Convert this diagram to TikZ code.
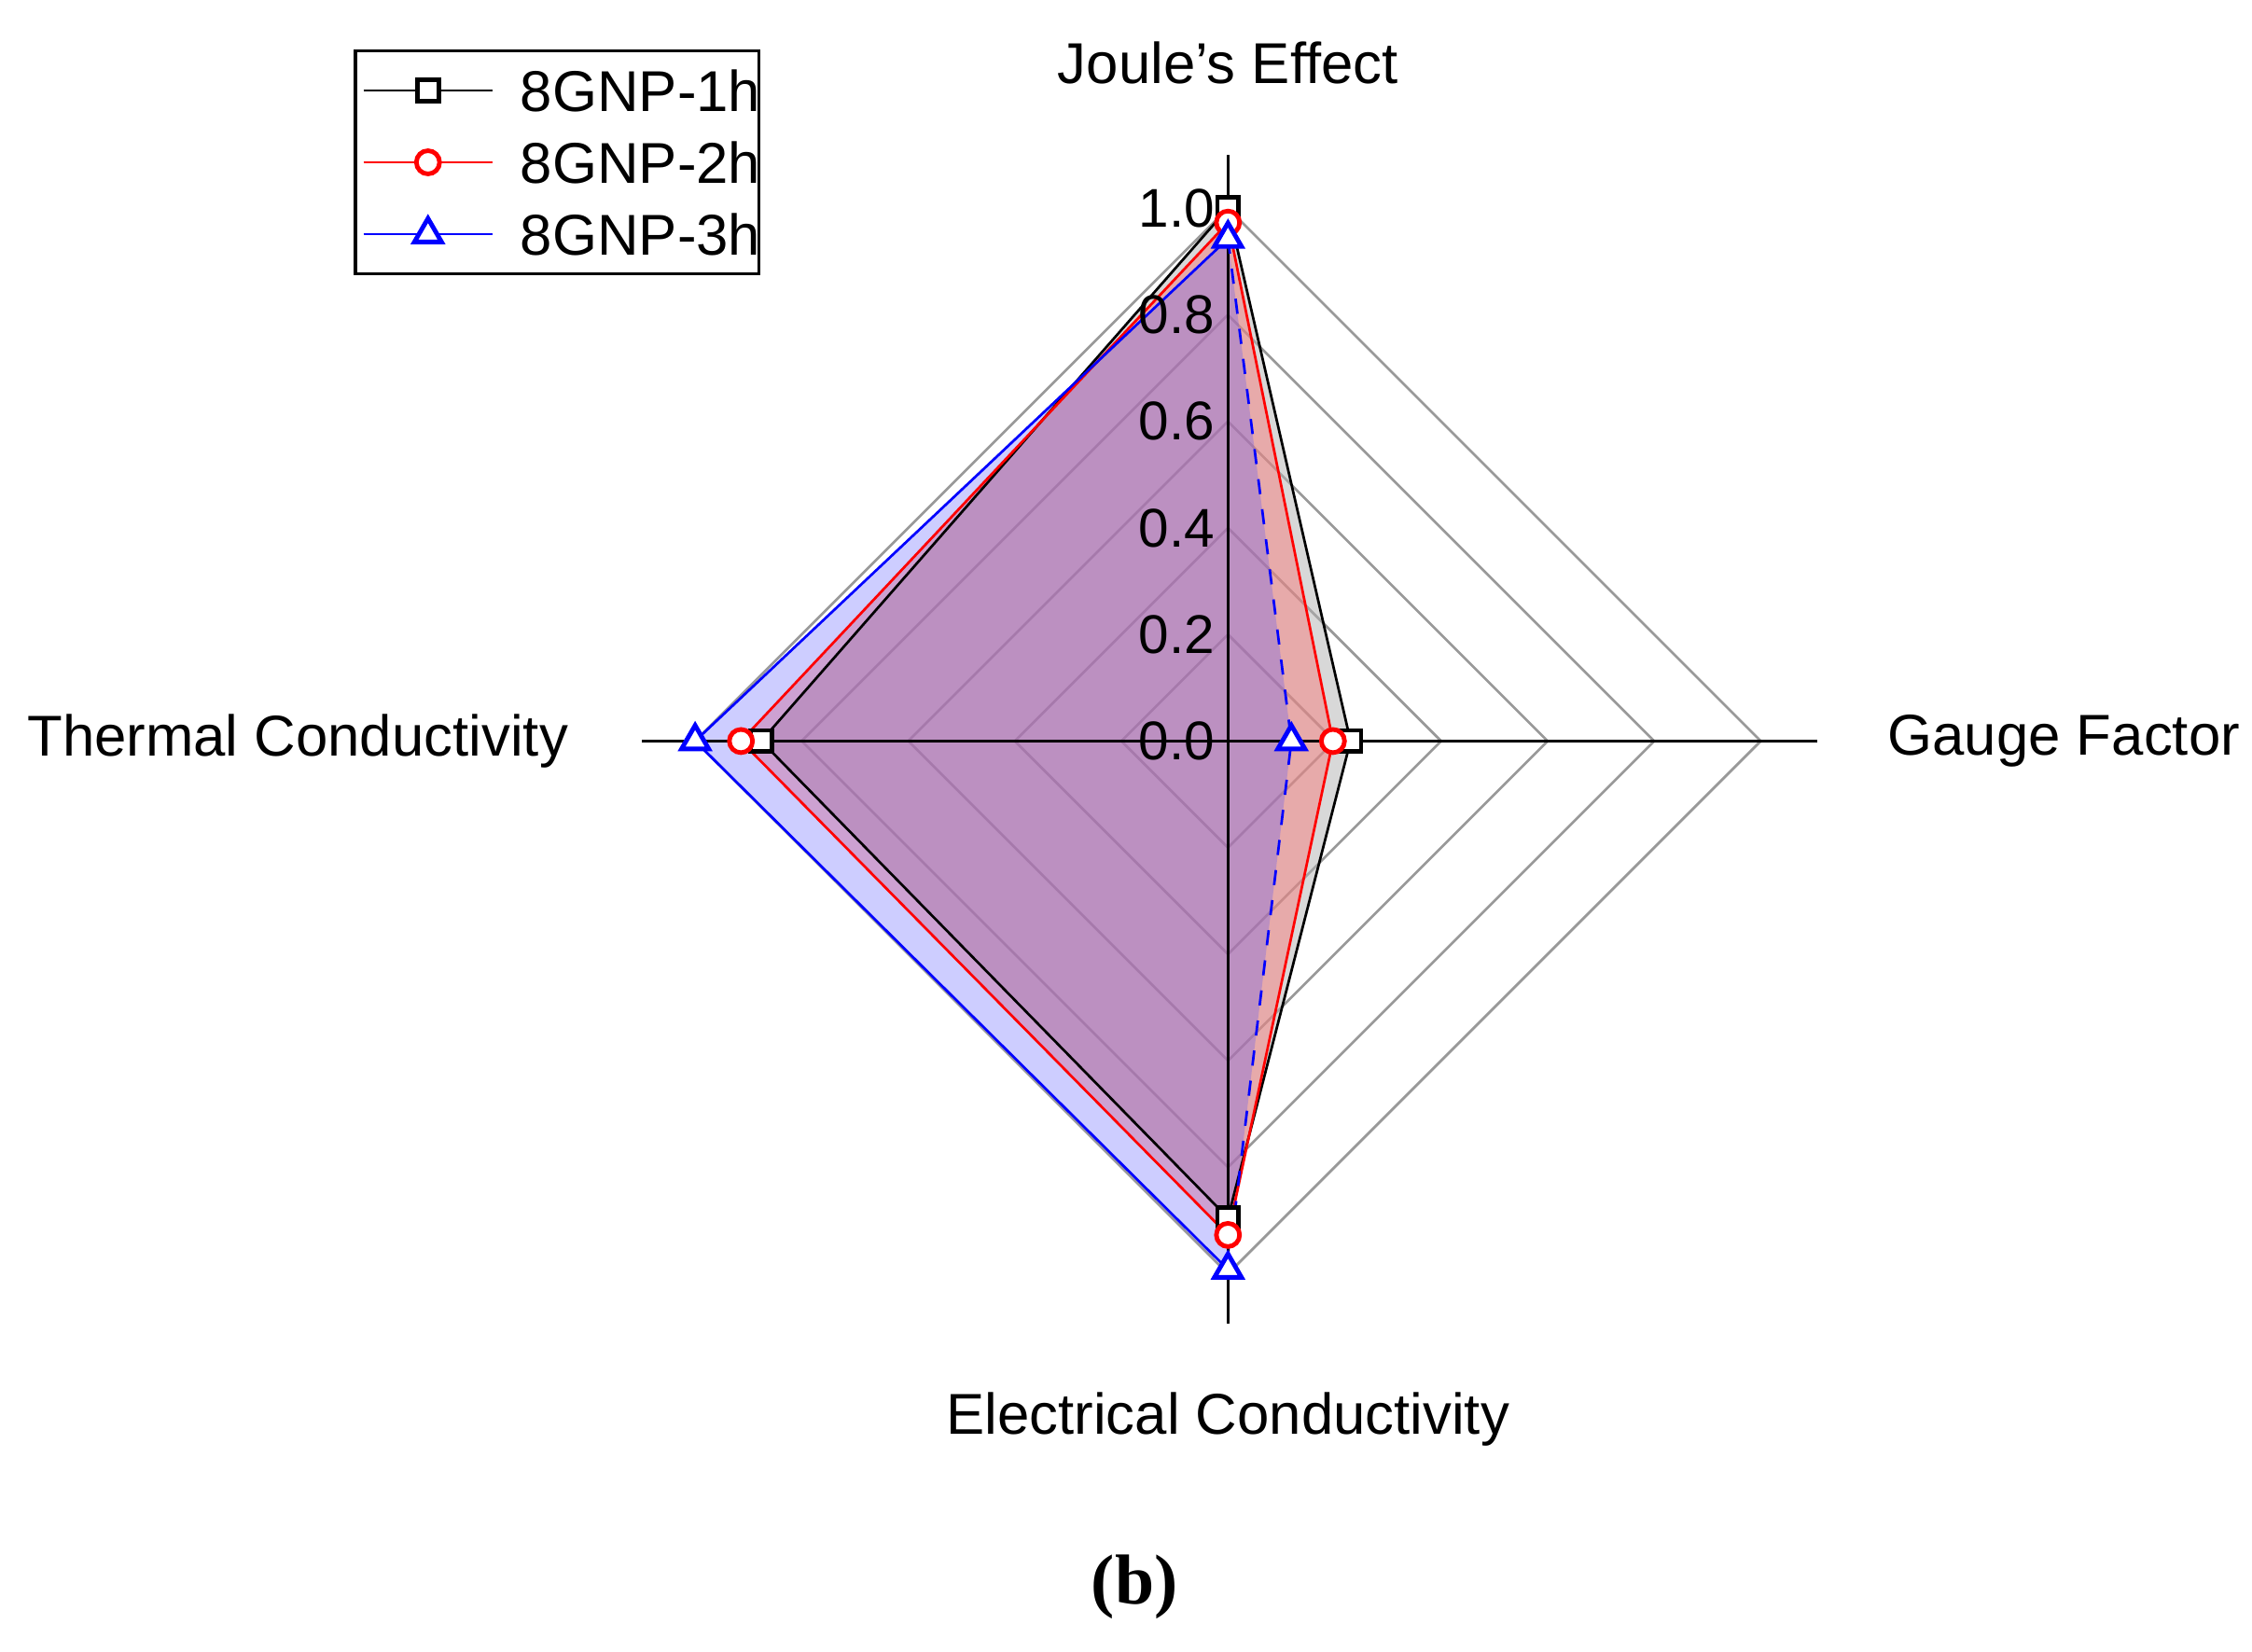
\documentclass[tikz,border=0pt]{standalone}
\usepackage{fontspec}
\setmainfont{Liberation Sans}
\newfontfamily\capfont{Liberation Serif}
\usetikzlibrary{shapes.geometric}
\begin{document}
\begin{tikzpicture}[x=0.01cm,y=-0.01cm,
  grid/.style={draw=gray!80, line width=0.5pt},
  ax/.style={draw=black, line width=0.6pt},
  lbl/.style={font=\fontsize{11.4}{13}\selectfont},
  tick/.style={font=\fontsize{10.8}{12}\selectfont, anchor=east, inner sep=1pt},
  sq/.style={draw=black, line width=0.9pt, fill=white, minimum size=4.2pt, inner sep=0pt, rectangle},
  ci/.style={draw=red, line width=0.9pt, fill=white, minimum size=4.6pt, inner sep=0pt, circle},
  tr/.style={draw=blue, line width=0.9pt, fill=white, minimum size=6.2pt, inner sep=0pt, regular polygon, regular polygon sides=3},
]
\useasboundingbox (0,0) rectangle (1568,1150);
\def\R{371}
\foreach \r in {0.2,0.4,0.6,0.8,1.0}{
  \draw[grid] (855,516-\r*\R) -- (855+\r*\R,516) -- (855,516+\r*\R) -- (855-\r*\R,516) -- cycle;
}
\fill[gray!60, opacity=0.5] (855,516-1.0*\R) -- (855+0.23*\R,516) -- (855,516+0.895*\R) -- (855-0.876*\R,516) -- cycle;
\fill[red!60, opacity=0.4] (855,516-0.973*\R) -- (855+0.197*\R,516) -- (855,516+0.927*\R) -- (855-0.914*\R,516) -- cycle;
\fill[blue!70, opacity=0.28] (855,516-0.943*\R) -- (855+0.119*\R,516) -- (855,516+0.992*\R) -- (855-1.0*\R,516) -- cycle;
\coordinate (top) at (855,108); \coordinate (bot) at (855,922);
\coordinate (lft) at (447,516); \coordinate (rgt) at (1265,516);
\draw[ax] (top) -- (bot);
\draw[ax] (lft) -- (rgt);
\draw[black, line width=0.5pt] (855,516-1.0*\R) -- (855+0.23*\R,516) -- (855,516+0.895*\R) -- (855-0.876*\R,516) -- cycle;
\draw[red, line width=0.5pt] (855,516-0.973*\R) -- (855+0.197*\R,516) -- (855,516+0.927*\R) -- (855-0.914*\R,516) -- cycle;
\draw[blue, line width=0.5pt, dashed] (855,516-0.943*\R) -- (855+0.119*\R,516) -- (855,516+0.992*\R);
\draw[blue, line width=0.5pt] (855,516+0.992*\R) -- (855-1.0*\R,516) -- (855,516-0.943*\R);
\foreach \v/\t in {0/0.0,0.2/0.2,0.4/0.4,0.6/0.6,0.8/0.8,1.0/1.0}{
  \node[tick] (t\t) at (850,516-\v*\R) {\t};
}
\node[sq] (s1) at (855,516-1.0*\R) {};
\node[sq] (s2) at (855+0.23*\R,516) {};
\node[sq] (s3) at (855,516+0.895*\R) {};
\node[sq] (s4) at (855-0.876*\R,516) {};
\node[ci] (c1) at (855,516-0.973*\R) {};
\node[ci] (c2) at (855+0.197*\R,516) {};
\node[ci] (c3) at (855,516+0.927*\R) {};
\node[ci] (c4) at (855-0.914*\R,516) {};
\node[tr] (d1) at (855,516-0.943*\R) {};
\node[tr] (d2) at (855+0.119*\R,516) {};
\node[tr] (d3) at (855,516+0.992*\R) {};
\node[tr] (d4) at (855-1.0*\R,516) {};
\node[lbl] (lj) at (855,44) {Joule\char"0027 s Effect};
\node[lbl, anchor=west] (lg) at (1302,516) {Gauge Factor};
\node[lbl] (le) at (855,988) {Electrical Conductivity};
\node[lbl, anchor=east] (lt) at (408,516) {Thermal Conductivity};
\node[draw=black, line width=0.6pt, inner sep=0pt, minimum width=2.81cm, minimum height=1.55cm] (leg) at (388,113) {};
\draw[black, line width=0.5pt] (253,63) -- (343,63);
\node[sq] (ls) at (298,63) {};
\node[lbl, anchor=west] (l1) at (350,63) {8GNP-1h};
\draw[red, line width=0.5pt] (253,113) -- (343,113);
\node[ci] (lc) at (298,113) {};
\node[lbl, anchor=west] (l2) at (350,113) {8GNP-2h};
\draw[blue, line width=0.5pt] (253,163) -- (343,163);
\node[tr] (lt3) at (298,163) {};
\node[lbl, anchor=west] (l3) at (350,163) {8GNP-3h};
\node[font=\capfont\fontsize{14}{16}\selectfont\bfseries] (cap) at (790,1105) {(b)};
\end{tikzpicture}
\end{document}
